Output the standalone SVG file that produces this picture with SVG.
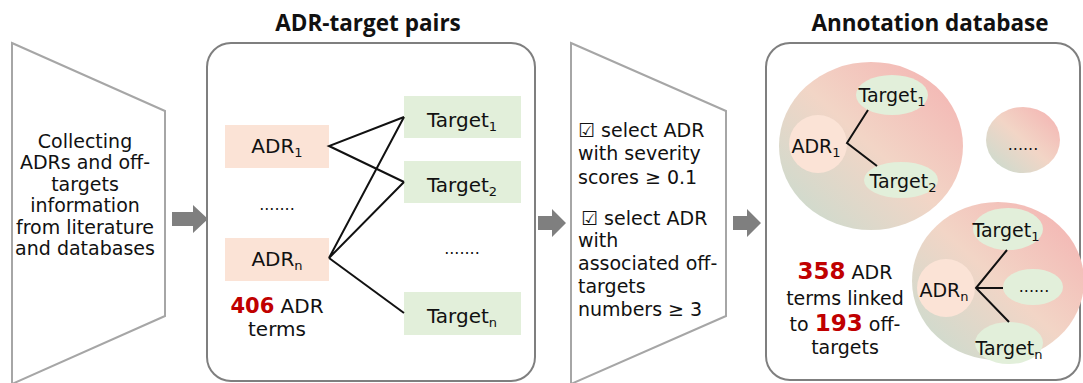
<svg xmlns="http://www.w3.org/2000/svg" width="1083" height="383" viewBox="0 0 1083 383">
  <style>
    text { font-family: "DejaVu Sans", "Noto Sans", sans-serif; fill: #111; }
    .t { font-size: 19px; text-anchor: middle; }
    .b { font-size: 20px; text-anchor: middle; }
    .l { font-size: 19px; }
    .title { font-family: "Open Sans", "Noto Sans", sans-serif; font-size: 22.5px; font-weight: bold; text-anchor: middle; }
    .num { fill: #c00000; font-weight: bold; }
    .sub { font-size: 13px; }
    .dots { font-size: 16px; text-anchor: middle; }
    .frame { fill: #fff; stroke: #a6a6a6; stroke-width: 2; }
    .panel { fill: #fff; stroke: #7f7f7f; stroke-width: 2; }
    .adr { fill: #fbe3d6; }
    .tgt { fill: #e2efda; }
    .link { stroke: #111; stroke-width: 2; fill: none; }
    .arrow { fill: #7f7f7f; }
  </style>
  <defs>
    <linearGradient id="blob" x1="1" y1="0" x2="0" y2="1">
      <stop offset="0" stop-color="#f4b0b0"/>
      <stop offset="0.5" stop-color="#f2d5c6"/>
      <stop offset="1" stop-color="#c5dccf"/>
    </linearGradient>
  </defs>

  <!-- stage 1: collection -->
  <g id="collect">
    <polygon class="frame" points="12,43 165,111 165,316 12,384"/>
    <text class="t" x="85" y="148">Collecting</text>
    <text class="t" x="85" y="169">ADRs and off-</text>
    <text class="t" x="85" y="191">targets</text>
    <text class="t" x="85" y="212">information</text>
    <text class="t" x="85" y="234">from literature</text>
    <text class="t" x="85" y="255">and databases</text>
  </g>

  <!-- flow arrows -->
  <g id="arrows">
    <polygon class="arrow" points="172,212 193,212 193,205 208,219 193,233 193,226 172,226"/>
    <polygon class="arrow" points="538,216 552,216 552,209 566,223 552,237 552,230 538,230"/>
    <polygon class="arrow" points="733,216 747,216 747,209 761,223 747,237 747,230 733,230"/>
  </g>

  <!-- stage 2: ADR-target pairs -->
  <g id="pairs">
    <text class="title" x="368" y="31">ADR-target pairs</text>
    <rect class="panel" x="207" y="43" width="328" height="338" rx="24"/>
  </g>
  <g id="adr1">
    <rect class="adr" x="225" y="125" width="104" height="43"/>
    <text class="b" x="277" y="153">ADR<tspan class="sub" dy="4">1</tspan></text>
  </g>
  <g id="adr-dots"><text class="dots" x="277" y="210">.......</text></g>
  <g id="adrn">
    <rect class="adr" x="225" y="238" width="104" height="43"/>
    <text class="b" x="277" y="266">ADR<tspan class="sub" dy="4">n</tspan></text>
  </g>
  <g id="adr-count">
    <text class="b" x="277" y="313"><tspan class="num" font-size="21">406</tspan> ADR</text>
    <text class="b" x="277" y="336">terms</text>
  </g>
  <g id="target1">
    <rect class="tgt" x="404" y="96" width="117" height="42"/>
    <text class="b" x="462" y="127">Target<tspan class="sub" dy="4">1</tspan></text>
  </g>
  <g id="target2">
    <rect class="tgt" x="404" y="161" width="117" height="42"/>
    <text class="b" x="462" y="192">Target<tspan class="sub" dy="4">2</tspan></text>
  </g>
  <g id="target-dots"><text class="dots" x="462" y="254">.......</text></g>
  <g id="targetn">
    <rect class="tgt" x="404" y="292" width="117" height="43"/>
    <text class="b" x="462" y="323">Target<tspan class="sub" dy="4">n</tspan></text>
  </g>
  <g id="pair-links">
    <polyline class="link" points="404,117 329,146 404,182"/>
    <polyline class="link" points="404,117 329,258 404,182"/>
    <line class="link" x1="329" y1="258" x2="404" y2="313"/>
  </g>

  <!-- stage 3: filtering -->
  <g id="filter">
    <polygon class="frame" points="571,43 726,111 726,316 571,384"/>
    <text class="l" x="578" y="137">☑ select ADR</text>
    <text class="l" x="578" y="160">with severity</text>
    <text class="l" x="578" y="184">scores ≥ 0.1</text>
    <text class="l" x="581" y="225">☑ select ADR</text>
    <text class="l" x="578" y="247">with</text>
    <text class="l" x="578" y="270">associated off-</text>
    <text class="l" x="578" y="293">targets</text>
    <text class="l" x="578" y="316">numbers ≥ 3</text>
  </g>

  <!-- stage 4: annotation database -->
  <g id="database">
    <text class="title" x="930" y="31">Annotation database</text>
    <rect class="panel" x="766" y="43" width="314" height="337" rx="24"/>
  </g>
  <g id="cluster1">
    <ellipse cx="871" cy="146" rx="92" ry="84" fill="url(#blob)"/>
    <circle class="adr" cx="818" cy="144" r="29"/>
    <ellipse class="tgt" cx="892" cy="95" rx="36" ry="20"/>
    <ellipse class="tgt" cx="901" cy="180" rx="37" ry="18"/>
    <polyline class="link" points="868,110 847,143 877,166"/>
    <text class="t" x="816" y="153">ADR<tspan class="sub" dy="4">1</tspan></text>
    <text class="t" x="892" y="102">Target<tspan class="sub" dy="4">1</tspan></text>
    <text class="t" x="903" y="188">Target<tspan class="sub" dy="4">2</tspan></text>
  </g>
  <g id="cluster-more">
    <ellipse cx="1023" cy="140" rx="37" ry="33" fill="url(#blob)"/>
    <text class="dots" x="1023" y="150">......</text>
  </g>
  <g id="clustern">
    <ellipse cx="998" cy="281" rx="86" ry="79" fill="url(#blob)"/>
    <circle class="adr" cx="946" cy="288" r="29"/>
    <ellipse class="tgt" cx="1008" cy="229" rx="35" ry="21"/>
    <ellipse class="tgt" cx="1033" cy="287" rx="30" ry="18"/>
    <ellipse class="tgt" cx="1009" cy="343" rx="34" ry="21"/>
    <polyline class="link" points="1007,250 976,288 1009,322"/>
    <line class="link" x1="976" y1="288" x2="1003" y2="288"/>
    <text class="t" x="944" y="297">ADR<tspan class="sub" dy="4">n</tspan></text>
    <text class="t" x="1006" y="237">Target<tspan class="sub" dy="4">1</tspan></text>
    <text class="dots" x="1034" y="292">......</text>
    <text class="t" x="1009" y="355">Target<tspan class="sub" dy="4">n</tspan></text>
  </g>
  <g id="db-count">
    <text class="t" x="845" y="279"><tspan class="num" font-size="23">358</tspan> ADR</text>
    <text class="t" x="845" y="305">terms linked</text>
    <text class="t" x="845" y="331">to <tspan class="num" font-size="23">193</tspan> off-</text>
    <text class="t" x="845" y="354">targets</text>
  </g>
</svg>
